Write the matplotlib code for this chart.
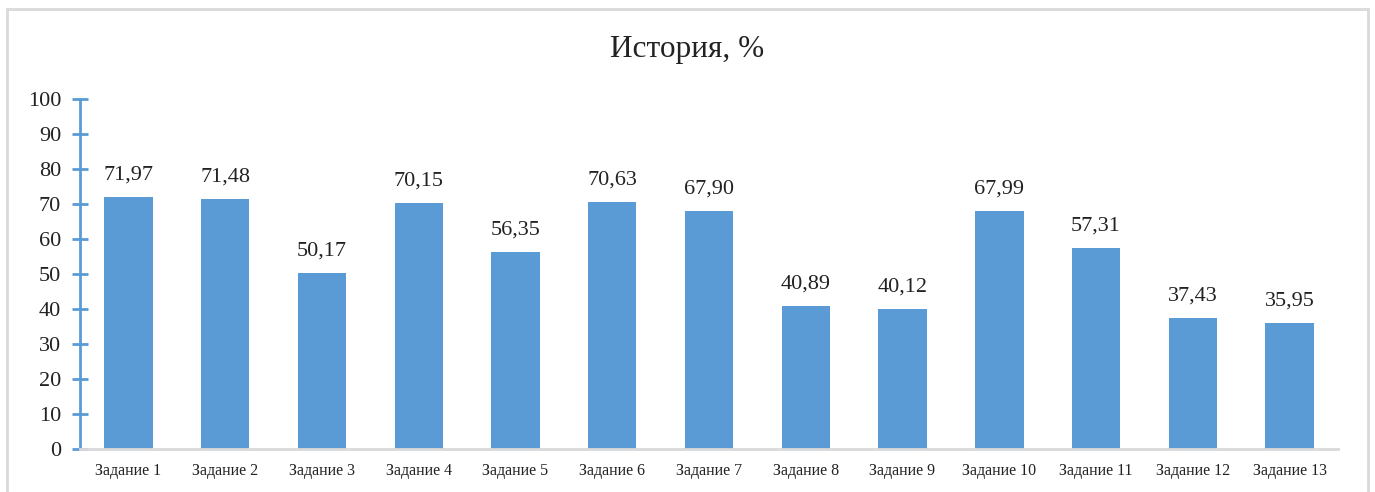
import numpy as np
import matplotlib.pyplot as plt
from matplotlib.patches import Rectangle

# data
tasks = ['Задание %d' % i for i in range(1, 14)]
scores = [71.97, 71.48, 50.17, 70.15, 56.35, 70.63, 67.90,
          40.89, 40.12, 67.99, 57.31, 37.43, 35.95]
yticks = list(range(0, 101, 10))

bar_color = '#5B9BD5'
grid_gray = '#D9D9D9'

plt.rcParams['font.family'] = ['Liberation Serif', 'DejaVu Serif']

fig = plt.figure(figsize=(13.75, 4.92), dpi=100)
ax = fig.add_axes([80 / 1375, 1 - 449 / 492, (1338 - 80) / 1375, (449 - 99) / 492])

x = np.arange(len(tasks))
bars = ax.bar(x, scores, width=0.5, color=bar_color)

for b, v in zip(bars, scores):
    ax.annotate(('%.2f' % v).replace('.', ','),
                (b.get_x() + b.get_width() / 2, v),
                xytext=(0, 9), textcoords='offset points',
                ha='center', va='bottom', fontsize=16, color='#222222')

ax.set_xlim(-0.5, len(tasks) - 0.5)
ax.set_ylim(0, 100)
ax.set_yticks(yticks)
ax.set_xticks(x)
ax.set_xticklabels(tasks, fontsize=11.5)
ax.tick_params(axis='x', length=0, pad=10, colors='#222222')
ax.tick_params(axis='y', direction='inout', length=11, width=2,
               color=bar_color, labelsize=16, labelcolor='#222222', pad=8)

for s in ['top', 'right']:
    ax.spines[s].set_visible(False)
ax.spines['left'].set_color(bar_color)
ax.spines['left'].set_linewidth(2)
ax.spines['bottom'].set_color(grid_gray)
ax.spines['bottom'].set_linewidth(2)

fig.text(0.5, 1 - 50 / 492, 'История, %', ha='center', va='center',
         fontsize=22.5, color='#222222')

# chart frame
fig.patches.append(Rectangle((7 / 1375, -0.05), (1368 - 7) / 1375, 1.05 - 9 / 492,
                             transform=fig.transFigure, fill=False,
                             edgecolor=grid_gray, linewidth=2))

fig.savefig('out.png', dpi=100)
